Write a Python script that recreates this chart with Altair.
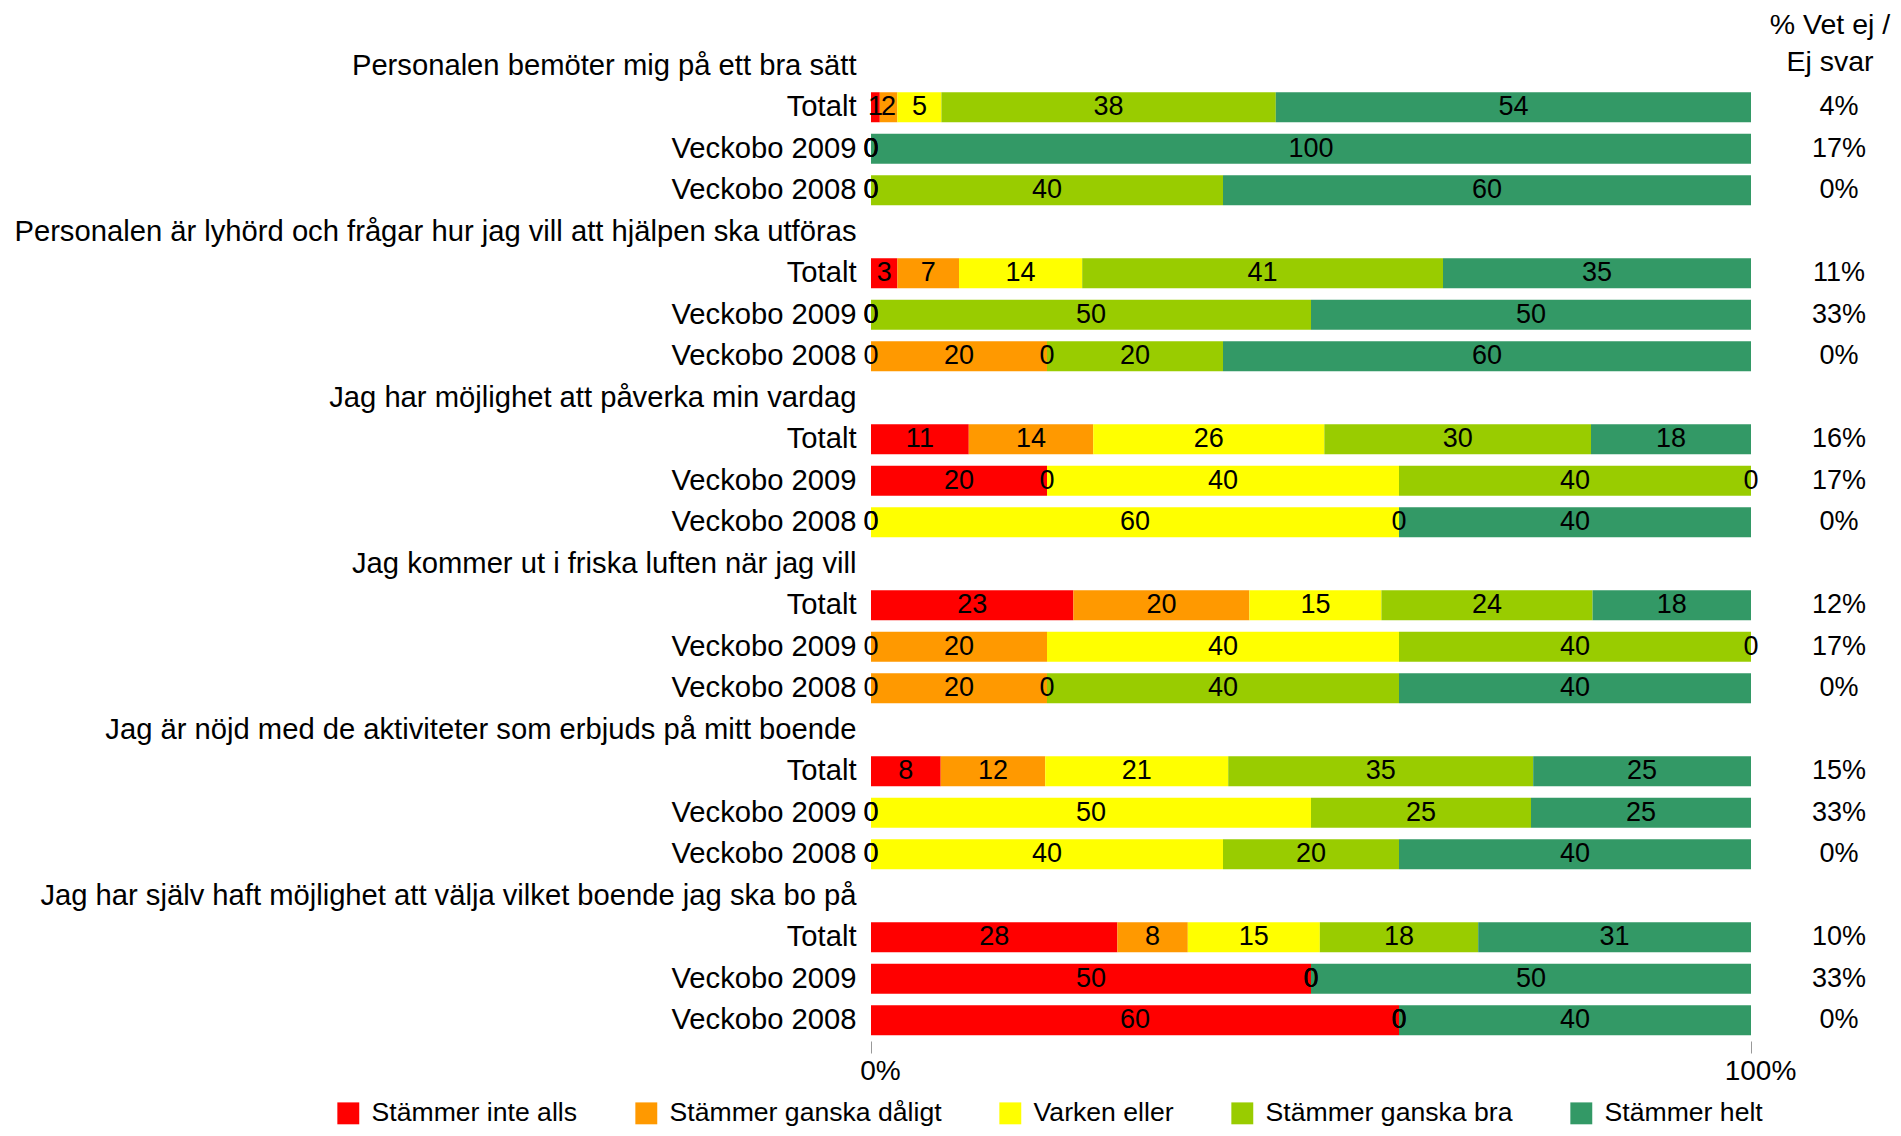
import altair as alt
import pandas as pd

categories = ["Stämmer inte alls", "Stämmer ganska dåligt", "Varken eller",
              "Stämmer ganska bra", "Stämmer helt"]
colors = ["#FF0000", "#FF9900", "#FFFF00", "#99CC00", "#339966"]

questions = [
    "Personalen bemöter mig på ett bra sätt",
    "Personalen är lyhörd och frågar hur jag vill att hjälpen ska utföras",
    "Jag har möjlighet att påverka min vardag",
    "Jag kommer ut i friska luften när jag vill",
    "Jag är nöjd med de aktiviteter som erbjuds på mitt boende",
    "Jag har själv haft möjlighet att välja vilket boende jag ska bo på",
]
row_labels = ["Totalt", "Veckobo 2009", "Veckobo 2008"]

q1_values = [[1, 2, 5, 38, 54], [0, 0, 0, 0, 100], [0, 0, 0, 40, 60]]
q2_values = [[3, 7, 14, 41, 35], [0, 0, 0, 50, 50], [0, 20, 0, 20, 60]]
q3_values = [[11, 14, 26, 30, 18], [20, 0, 40, 40, 0], [0, 0, 60, 0, 40]]
q4_values = [[23, 20, 15, 24, 18], [0, 20, 40, 40, 0], [0, 20, 0, 40, 40]]
q5_values = [[8, 12, 21, 35, 25], [0, 0, 50, 25, 25], [0, 0, 40, 20, 40]]
q6_values = [[28, 8, 15, 18, 31], [50, 0, 0, 0, 50], [60, 0, 0, 0, 40]]
all_values = [q1_values, q2_values, q3_values, q4_values, q5_values, q6_values]

no_answer = [["4%", "17%", "0%"], ["11%", "33%", "0%"], ["16%", "17%", "0%"],
             ["12%", "17%", "0%"], ["15%", "33%", "0%"], ["10%", "33%", "0%"]]

header_text = ["% Vet ej /", "Ej svar"]

# build tables
keys = []
bar_rows = []
na_rows = []
i = 0
for q, vals, nas in zip(questions, all_values, no_answer):
    keys.append(f"{i:02d}|{q}")
    i += 1
    for rl, rv, na in zip(row_labels, vals, nas):
        k = f"{i:02d}|{rl}"
        keys.append(k)
        i += 1
        for o, (c, v) in enumerate(zip(categories, rv)):
            bar_rows.append({"key": k, "category": c, "order": o, "value": v})
        na_rows.append({"key": k, "na": na})

df = pd.DataFrame(bar_rows)
df_na = pd.DataFrame(na_rows)
df_head = pd.DataFrame({"h": [0]})

FONT = "Liberation Sans"

y_enc = alt.Y("key:N", sort=keys,
              scale=alt.Scale(domain=keys, paddingInner=0, paddingOuter=0),
              axis=alt.Axis(title=None, domain=False, ticks=False,
                            labelExpr="split(datum.label, '|')[1]",
                            labelFontSize=29.2, labelFont=FONT, labelColor="black",
                            labelLimit=1200, labelPadding=15))

bars = alt.Chart(df).mark_bar(size=30).encode(
    y=y_enc,
    x=alt.X("value:Q", stack="normalize",
            scale=alt.Scale(domain=[0, 1], nice=False),
            axis=alt.Axis(title=None, values=[0, 1], format="%", grid=False,
                          domain=False, tickColor="#999999", tickSize=12,
                          labelFontSize=28, labelFont=FONT, labelColor="black",
                          labelPadding=4, labelOffset=9, labelFlush=False)),
    color=alt.Color("category:N", sort=categories,
                    scale=alt.Scale(domain=categories, range=colors),
                    legend=alt.Legend(title=None, orient="none", direction="horizontal",
                                      legendX=-536, legendY=1055,
                                      symbolType="square", symbolSize=480,
                                      symbolStrokeWidth=0, labelFontSize=26.6,
                                      labelFont=FONT, labelColor="black",
                                      labelOffset=10, columnPadding=55,
                                      labelLimit=600)),
    order=alt.Order("order:Q"),
)

labels = alt.Chart(df).transform_stack(
    stack="value", groupby=["key"], sort=[alt.SortField("order")],
    as_=["v0", "v1"], offset="normalize"
).transform_calculate(
    mid="(datum.v0 + datum.v1) / 2"
).mark_text(fontSize=27, font=FONT, color="black", baseline="middle").encode(
    y=alt.Y("key:N", sort=keys),
    x=alt.X("mid:Q"),
    text=alt.Text("value:Q"),
)

na_text = alt.Chart(df_na).mark_text(fontSize=27, font=FONT, color="black",
                                     align="center", baseline="middle", dx=88).encode(
    y=alt.Y("key:N", sort=keys),
    x=alt.datum(1),
    text="na:N",
)

header = alt.Chart(df_head).mark_text(text=header_text, fontSize=28.5, font=FONT,
                                      color="black", align="center",
                                      baseline="middle", lineHeight=37,
                                      dx=79, dy=-41).encode(
    y=alt.datum(keys[0]),
    x=alt.datum(1),
)

chart = alt.layer(bars, labels, na_text, header).properties(
    width=880, height=996,
    padding={"left": 5, "top": 2, "right": 0, "bottom": 0},
).configure(font=FONT).configure_view(stroke=None)

chart.save("out.html", embed_options={"renderer": "svg", "actions": False})
